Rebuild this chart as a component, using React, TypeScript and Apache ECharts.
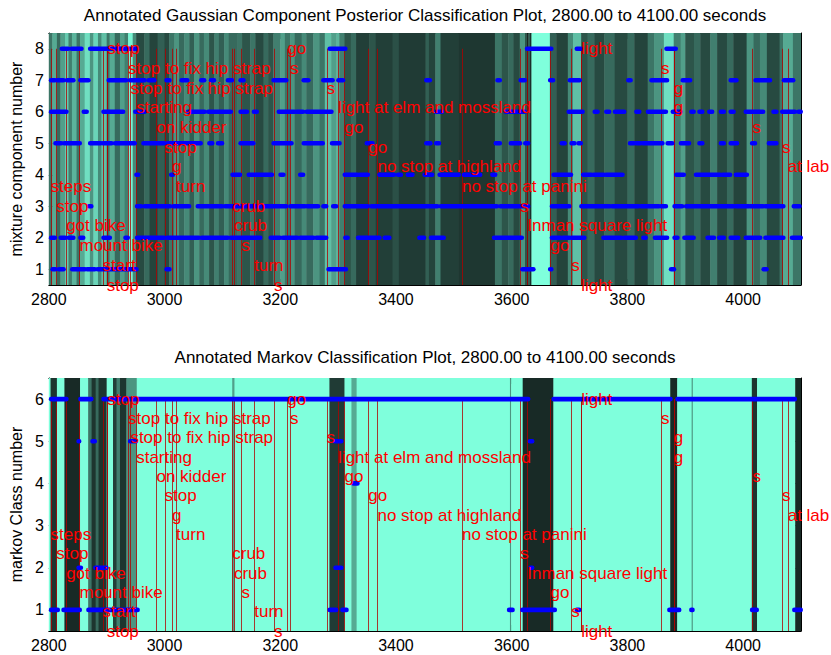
import React, { useEffect, useRef } from 'react';
import * as echarts from 'echarts';

// ---------- axes ----------
const xTicks = [2800, 3000, 3200, 3400, 3600, 3800, 4000];
const gaussTicks = [1, 2, 3, 4, 5, 6, 7, 8];
const markovTicks = [1, 2, 3, 4, 5, 6];

// ---------- annotations (seconds) ----------
const annotationTimes = [
  2803, 2813, 2830, 2853, 2893, 2900, 2901, 2937, 2941, 2951, 2986, 3000, 3013,
  3020, 3117, 3120, 3133, 3155, 3189, 3212, 3217, 3280, 3300, 3311, 3352, 3368,
  3514, 3615, 3627, 3667, 3703, 3720, 3720, 3858, 3880, 3880, 4016, 4067, 4077,
];
const annotationLabels = [
  'steps', 'stop', 'got bike', 'mount bike', 'start', 'stop', 'stop',
  'stop to fix hip strap', 'stop to fix hip strap', 'starting', 'on kidder', 'stop', 'g',
  'turn', 'crub', 'crub', 's', 'turn', 's', 'go', 's', 's', 'light at elm and mossland',
  'go', 'go', 'no stop at highland', 'no stop at panini', 's', 'Inman square light', 'go',
  's', 'light', 'light', 's', 'g', 'g', 's', 's', 'at lab',
];

// ---------- background shading: [start, end, posterior weight] ----------
const gaussStripes: number[][] = [
  [2800, 2806, 0.35], [2806, 2814, 0.6], [2814, 2820, 0.3], [2820, 2828, 0.55], [2828, 2834, 0.75],
  [2834, 2840, 0.4], [2840, 2848, 0.65], [2848, 2854, 0.35], [2854, 2862, 0.6], [2862, 2871, 0.85],
  [2871, 2877, 0.5], [2877, 2885, 0.8], [2885, 2891, 0.45], [2891, 2900, 0.7], [2900, 2905, 0.35],
  [2905, 2914, 0.6], [2914, 2923, 0.3], [2923, 2931, 0.55], [2931, 2937, 0.4], [2937, 2945, 0.95],
  [2945, 2951, 0.45], [2951, 2965, 0.15], [2965, 2974, 0.3], [2974, 2988, 0.12], [2988, 3000, 0.25],
  [3000, 3008, 0.15], [3008, 3017, 0.35], [3017, 3025, 0.5], [3025, 3034, 0.3], [3034, 3043, 0.45],
  [3043, 3051, 0.25], [3051, 3060, 0.5], [3060, 3068, 0.3], [3068, 3077, 0.45], [3077, 3086, 0.2],
  [3086, 3094, 0.4], [3094, 3103, 0.25], [3103, 3111, 0.45], [3111, 3126, 0.3],
  [3126, 3134, 0.35], [3134, 3148, 0.2], [3148, 3157, 0.35], [3157, 3171, 0.15], [3171, 3179, 0.3],
  [3179, 3188, 0.2], [3188, 3200, 0.4], [3200, 3208, 0.55], [3208, 3217, 0.35], [3217, 3225, 0.5],
  [3225, 3237, 0.3], [3237, 3245, 0.45], [3245, 3257, 0.3], [3257, 3268, 0.5], [3268, 3277, 0.35],
  [3277, 3288, 0.7], [3288, 3297, 0.55], [3297, 3302, 0.65], [3302, 3311, 0.4], [3311, 3322, 0.2],
  [3322, 3331, 0.3], [3331, 3354, 0.1], [3354, 3365, 0.2], [3365, 3394, 0.1], [3394, 3405, 0.18],
  [3405, 3451, 0.08],
  [3451, 3457, 0.25], [3457, 3468, 0.12], [3468, 3477, 0.4], [3477, 3508, 0.1], [3508, 3571, 0.06],
  [3571, 3583, 0.35], [3583, 3594, 0.2], [3594, 3603, 0.3], [3603, 3614, 0.15], [3614, 3623, 0.5],
  [3623, 3627, 0.2], [3627, 3628.5, -1], [3628.5, 3632.5, 0.25], [3632.5, 3634, -1], [3634, 3666, 1],
  [3666, 3677, 0.25], [3677, 3697, 0.12], [3697, 3706, 0.45], [3706, 3720, 0.7], [3720, 3731, 0.2],
  [3731, 3743, 0.3], [3743, 3760, 0.15], [3760, 3778, 0.3],
  [3778, 3800, 0.15], [3800, 3812, 0.3], [3812, 3835, 0.12], [3835, 3846, 0.35], [3846, 3863, 0.5],
  [3863, 3880, 0.85], [3880, 3892, 0.4], [3892, 3900, 0.55], [3900, 3915, 0.2], [3915, 3926, 0.3],
  [3926, 3943, 0.15], [3943, 3955, 0.4], [3955, 3972, 0.15], [3972, 3983, 0.3], [3983, 4006, 0.12],
  [4006, 4018, 0.5], [4018, 4029, 0.3], [4029, 4041, 0.45], [4041, 4063, 0.15], [4063, 4069, 0.35],
  [4069, 4086, 0.6], [4086, 4100, 0.35],
];
const markovStripes: number[][] = [
  [2800, 2814, 1], [2803, 2814, 0.05], [2814, 2827, 1], [2827, 2854, 0], [2854, 2868, 1],
  [2868, 2874, 0.35], [2874, 2881, 0.05], [2881, 2886, 0.3], [2886, 2900, 0.05], [2900, 2911, 1],
  [2911, 2917, 0.1], [2917, 2923, 0.4], [2923, 2934, 0.05], [2934, 2952, 0.5], [2952, 3285, 1],
  [3117, 3120, 0.55], [3285, 3311, 0.08], [3311, 3323, 1], [3323, 3332, 0.6], [3332, 3597, 1],
  [3597, 3599, 0.5], [3599, 3619, 1], [3619, 3672, 0], [3672, 3874, 1], [3874, 3886, 0],
  [3886, 3911, 1], [3911, 3913, 0.5], [3913, 4015, 1], [4015, 4024, 0.05], [4024, 4090, 1],
  [4090, 4100, 0],
];

// ---------- classification runs: [start, end] per class ----------
const gaussClass8 = [[2822, 2834], [2839, 2857], [2871, 2952], [3285, 3313], [3626, 3669], [3712, 3720], [3867, 3884]];
const gaussClass7 = [
  [2800, 2811], [2814, 2826], [2831, 2843], [2854, 2869], [2903, 2934], [2940, 2966], [2972, 2983],
  [3003, 3009], [3029, 3040], [3063, 3069], [3080, 3086], [3109, 3117], [3131, 3137], [3188, 3211],
  [3240, 3249], [3274, 3291], [3300, 3309], [3452, 3459], [3575, 3580], [3615, 3623], [3666, 3672],
  [3700, 3718], [3801, 3806], [3841, 3869], [3895, 3909], [3978, 3989], [4021, 4047], [4070, 4087],
];
const gaussClass6 = [
  [2803, 2831], [2860, 2866], [2894, 2929], [2949, 2966], [3040, 3070], [3075, 3115], [3131, 3143],
  [3154, 3160], [3197, 3225], [3228, 3240], [3245, 3289], [3469, 3480], [3589, 3623], [3698, 3723],
  [3743, 3749], [3763, 3769], [3778, 3795], [3815, 3821], [3835, 3867], [3878, 3892], [3910, 3915],
  [3924, 3930], [3941, 3947], [3961, 3967], [3978, 3984], [4004, 4035], [4052, 4058], [4067, 4090],
  [4095, 4100],
];
const gaussClass5 = [
  [2811, 2822], [2826, 2854], [2871, 2890], [2893, 2909], [2914, 2949], [2963, 3000], [3005, 3063],
  [3077, 3083], [3092, 3100], [3131, 3154], [3188, 3220], [3240, 3274], [3289, 3303], [3349, 3360],
  [3452, 3460], [3469, 3475], [3572, 3580], [3598, 3615], [3623, 3629], [3686, 3692], [3703, 3709],
  [3715, 3720], [3804, 3812], [3815, 3823], [3826, 3861], [3869, 3878], [3892, 3907], [3924, 3930],
  [3961, 3967], [3978, 3990], [4015, 4021], [4044, 4058],
];
const gaussClass4 = [
  [2951, 2955], [3011, 3015], [3117, 3131], [3145, 3186], [3200, 3206], [3234, 3240], [3311, 3334],
  [3337, 3352], [3371, 3397], [3403, 3409], [3420, 3429], [3449, 3463], [3475, 3509], [3517, 3546],
  [3566, 3572], [3672, 3703], [3723, 3738], [3741, 3760], [3763, 3792], [3884, 3898], [3918, 3961],
  [3964, 3978], [3987, 4007],
];
const gaussClass3 = [
  [2869, 2874], [2952, 2960], [2965, 3010], [3015, 3043], [3057, 3100], [3104, 3211], [3217, 3243],
  [3246, 3266], [3274, 3280], [3291, 3297], [3311, 3352], [3357, 3472], [3477, 3575], [3580, 3618],
  [3620, 3629], [3669, 3700], [3720, 3770], [3773, 3820], [3823, 3855], [3858, 3867], [3881, 3895],
  [3901, 3984], [3987, 4010], [4012, 4035], [4038, 4070], [4087, 4098],
];
const gaussClass2 = [
  [2800, 2811], [2820, 2829], [2834, 2843], [2854, 2860], [2894, 2906], [2932, 2937], [2952, 3000],
  [3004, 3060], [3064, 3110], [3114, 3166], [3183, 3200], [3204, 3230], [3234, 3258], [3262, 3280],
  [3312, 3317], [3334, 3372], [3380, 3389], [3440, 3449], [3460, 3483], [3569, 3618], [3669, 3685],
  [3688, 3700], [3703, 3726], [3758, 3790], [3794, 3815], [3827, 3832], [3847, 3869], [3881, 3887],
  [3898, 3915], [3938, 3950], [3958, 3967], [3978, 3992], [4004, 4030], [4038, 4070], [4084, 4100],
];
const gaussClass1 = [
  [2806, 2812], [2817, 2826], [2840, 2863], [2866, 2880], [2884, 2952], [3003, 3009], [3283, 3314],
  [3618, 3638], [3666, 3669], [3875, 3881], [4035, 4041],
];

const markovClass6 = [[2800, 2831], [2854, 2874], [2894, 3629], [3672, 3875], [3886, 4090]];
const markovClass5 = [[2851, 2853], [2875, 2880], [2940, 2951], [3294, 3306], [3631, 3636]];
const markovClass4 = [[3326, 3334]];
const markovClass3: number[][] = [];
const markovClass2 = [[2851, 2856], [2880, 2900], [3295, 3306], [3632, 3636]];
const markovClass1 = [
  [2800, 2816], [2825, 2854], [2868, 2954], [3285, 3297], [3307, 3315], [3595, 3602], [3618, 3675],
  [3712, 3717], [3872, 3890], [3910, 3913], [4015, 4024], [4088, 4100],
];

// ---------- helpers ----------
const FONT = '"Liberation Sans", Arial, Helvetica, sans-serif';
const DARK = [24, 42, 38];
const LIGHT = [127, 255, 220];

function shade(s: number): string {
  if (s < 0) {
    const f = 1 + s;
    return `rgb(${Math.round(DARK[0] * f)},${Math.round(DARK[1] * f)},${Math.round(DARK[2] * f)})`;
  }
  const c = DARK.map((d, i) => Math.round(d + s * (LIGHT[i] - d)));
  return `rgb(${c[0]},${c[1]},${c[2]})`;
}

function runsToData(levels: number[][][]): number[][] {
  const out: number[][] = [];
  levels.forEach((runs, idx) => {
    const level = levels.length - idx;
    runs.forEach((r) => out.push([r[0], r[1], level]));
  });
  return out;
}

const gaussRunData = runsToData([gaussClass8, gaussClass7, gaussClass6, gaussClass5, gaussClass4, gaussClass3, gaussClass2, gaussClass1]);
const markovRunData = runsToData([markovClass6, markovClass5, markovClass4, markovClass3, markovClass2, markovClass1]);

function stripeRender(params: any, api: any) {
  const cs = params.coordSys;
  const p0 = api.coord([api.value(0), 1]);
  const p1 = api.coord([api.value(1), 1]);
  const x0 = Math.max(cs.x, p0[0]);
  const x1 = Math.min(cs.x + cs.width, p1[0] + 0.5);
  if (x1 <= x0) return null;
  return {
    type: 'rect',
    shape: { x: x0, y: cs.y, width: x1 - x0, height: cs.height },
    style: { fill: shade(api.value(2)) },
  };
}

function runRender(params: any, api: any) {
  const cs = params.coordSys;
  const lvl = api.value(2);
  const p0 = api.coord([api.value(0), lvl]);
  const p1 = api.coord([api.value(1), lvl]);
  const x0 = Math.max(cs.x, p0[0] - 2);
  let x1 = Math.min(cs.x + cs.width + 2, p1[0] + 2);
  if (x1 - x0 < 4) x1 = x0 + 4;
  return {
    type: 'rect',
    shape: { x: x0, y: p0[1] - 2.3, width: x1 - x0, height: 4.6, r: 2.3 },
    style: { fill: '#0000ff' },
  };
}

function makeLineRender(top: number) {
  return (params: any, api: any) => {
    const a = api.coord([api.value(0), top]);
    const b = api.coord([api.value(0), 0.5]);
    return {
      type: 'line',
      shape: { x1: Math.round(a[0]) + 0.5, y1: a[1], x2: Math.round(a[0]) + 0.5, y2: b[1] },
      style: { stroke: 'rgba(175,0,0,0.78)', lineWidth: 1 },
    };
  };
}

function makeTextRender(top: number) {
  const step = (top - 0.5) / 12;
  return (params: any, api: any) => {
    const i = params.dataIndex;
    const row = (i + 7) % 13;
    const p = api.coord([api.value(0), top - row * step]);
    return {
      type: 'text',
      x: p[0],
      y: p[1],
      style: {
        text: annotationLabels[i],
        fill: '#ff0000',
        font: `17px ${FONT}`,
        align: 'left',
        verticalAlign: 'middle',
      },
    };
  };
}

function xAxis(gridIndex: number, position: string, showLabel: boolean) {
  return {
    type: 'value',
    gridIndex,
    position,
    min: 2800,
    max: 4100,
    axisLine: { show: true, onZero: false, lineStyle: { color: '#000', width: 1 } },
    axisTick: { show: true, inside: true, length: 6, customValues: xTicks, lineStyle: { color: '#000' } },
    axisLabel: {
      show: showLabel, customValues: xTicks, color: '#000', fontSize: 16, fontFamily: FONT, margin: 6,
      formatter: (v: number) => String(Math.round(v)),
    },
    splitLine: { show: false },
  };
}

function yAxis(gridIndex: number, position: string, top: number, ticks: number[], name: string) {
  return {
    type: 'value',
    gridIndex,
    position,
    min: 0.5,
    max: top + 0.5,
    name,
    nameLocation: 'middle',
    nameGap: 17,
    nameRotate: 90,
    nameTextStyle: { color: '#000', fontSize: 16, fontFamily: FONT },
    axisLine: { show: true, onZero: false, lineStyle: { color: '#000', width: 1 } },
    axisTick: { show: true, inside: true, length: 6, customValues: ticks, lineStyle: { color: '#000' } },
    axisLabel: {
      show: name !== '', customValues: ticks, color: '#000', fontSize: 16, fontFamily: FONT, margin: 5,
      formatter: (v: number) => String(Math.round(v)),
    },
    splitLine: { show: false },
  };
}

export default function App() {
  const ref = useRef<HTMLDivElement>(null);
  useEffect(() => {
    if (!ref.current) return;
    const chart = echarts.init(ref.current, undefined, { renderer: 'svg' });
    const timeData = annotationTimes.map((t) => [t, 1]);
    chart.setOption({
      animation: false,
      backgroundColor: '#ffffff',
      title: [
        {
          text: 'Annotated Gaussian Component Posterior Classification Plot, 2800.00 to 4100.00 seconds',
          left: 425, top: 7, textAlign: 'center', padding: 0,
          textStyle: { fontSize: 17, fontWeight: 'normal', color: '#000', fontFamily: FONT },
        },
        {
          text: 'Annotated Markov Classification Plot, 2800.00 to 4100.00 seconds',
          left: 425, top: 349, textAlign: 'center', padding: 0,
          textStyle: { fontSize: 17, fontWeight: 'normal', color: '#000', fontFamily: FONT },
        },
      ],
      grid: [
        { left: 43, top: 33, width: 758, height: 252 },
        { left: 43, top: 378, width: 758, height: 253 },
      ],
      xAxis: [xAxis(0, 'bottom', true), xAxis(0, 'top', false), xAxis(1, 'bottom', true), xAxis(1, 'top', false)],
      yAxis: [
        yAxis(0, 'left', 8, gaussTicks, 'mixture component number'),
        yAxis(0, 'right', 8, gaussTicks, ''),
        yAxis(1, 'left', 6, markovTicks, 'markov Class number'),
        yAxis(1, 'right', 6, markovTicks, ''),
      ],
      series: [
        { type: 'custom', xAxisIndex: 0, yAxisIndex: 0, renderItem: stripeRender, data: gaussStripes, encode: { x: [0, 1] }, z: 1, silent: true },
        { type: 'custom', xAxisIndex: 2, yAxisIndex: 2, renderItem: stripeRender, data: markovStripes, encode: { x: [0, 1] }, z: 1, silent: true },
        { type: 'custom', xAxisIndex: 0, yAxisIndex: 0, renderItem: makeLineRender(8), data: timeData, encode: { x: 0 }, z: 2, silent: true },
        { type: 'custom', xAxisIndex: 2, yAxisIndex: 2, renderItem: makeLineRender(6), data: timeData, encode: { x: 0 }, z: 2, silent: true },
        { type: 'custom', xAxisIndex: 0, yAxisIndex: 0, renderItem: runRender, data: gaussRunData, encode: { x: [0, 1], y: 2 }, z: 3, silent: true },
        { type: 'custom', xAxisIndex: 2, yAxisIndex: 2, renderItem: runRender, data: markovRunData, encode: { x: [0, 1], y: 2 }, z: 3, silent: true },
        { type: 'custom', xAxisIndex: 0, yAxisIndex: 0, renderItem: makeTextRender(8), data: timeData, encode: { x: 0 }, z: 5, clip: false, silent: true },
        { type: 'custom', xAxisIndex: 2, yAxisIndex: 2, renderItem: makeTextRender(6), data: timeData, encode: { x: 0 }, z: 5, clip: false, silent: true },
      ],
    });
    return () => chart.dispose();
  }, []);
  return (
    <div
      ref={ref}
      style={{ position: 'absolute', left: 0, top: 0, width: 831, height: 655, background: '#fff' }}
    />
  );
}
